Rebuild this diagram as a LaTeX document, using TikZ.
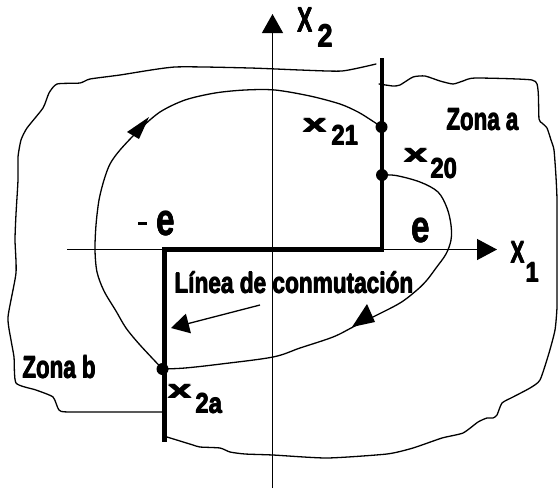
\documentclass[tikz,border=0pt]{standalone}
\usepackage{fontspec}
\newfontfamily\labfont{Liberation Sans Bold}
\usepackage{graphicx}
\usetikzlibrary{arrows.meta}
\newcommand{\heavytxt}[1]{\mbox{\rlap{#1}\rlap{\kern0.9pt#1}\rlap{\kern0.45pt\raisebox{0.5pt}{#1}}\rlap{\kern0.45pt\raisebox{-0.5pt}{#1}}\phantom{#1}}}
\newcommand{\mylab}[3]{\fontsize{#1}{#1}\selectfont\scalebox{#2}[1]{\heavytxt{#3}}}
\tikzset{
  thin line/.style={line width=1.3pt, line join=round, line cap=round},
  switchline/.style={line width=4.6pt, line join=miter},
  axisline/.style={line width=1.3pt, -{Triangle[length=19pt,width=21pt]}},
  lab/.style={inner sep=0pt, anchor=base west, font=\labfont},
  dotmark/.style={fill=black},
}
\begin{document}
\begin{tikzpicture}[x=1pt,y=-1pt]
\useasboundingbox (0,0) rectangle (559,491);
\fill[white] (0,0) rectangle (559,491);

% region outline (upper-left part)
\draw[thin line] plot[smooth, tension=0.35] coordinates {(376,64) (342,71) (300,70) (250,68) (175,67) (120,75) (90,79) (80,83) (57,84) (49,93) (43,108) (27,128) (21,140) (18,157) (18,180) (16,214) (15,240) (16,273) (8,317) (11,340) (14,357) (16,383) (36,390) (53,397) (59,410) (70,412) (164,412)};
% region outline (bottom and right part)
\draw[thin line] plot[smooth, tension=0.35] coordinates {(167,437) (180,441) (193,445) (200,447) (220,448) (230,452) (245,454) (273,455) (327,458) (387,454) (413,448) (442,438) (463,433) (478,422) (487,418) (493,418) (497,415) (502,403) (513,397) (530,388) (540,380) (549,353) (555,330) (557,307) (557,273) (557,240) (557,200) (556,177) (554,150) (551,140) (547,128) (542,123) (539,119) (538,90) (532,80) (475,78) (463,81) (453,84) (440,81) (425,76) (413,77) (400,85) (393,86) (379,84)};

% axes
\coordinate (v0) at (272.5,488);
\coordinate (v1) at (272.5,14);
\coordinate (h0) at (67,249.5);
\coordinate (h1) at (497,249.5);
\draw[axisline] (v0) -- (v1);
\draw[line width=1.3pt, -{Triangle[length=20pt,width=21pt]}] (h0) -- (h1);

% switching line
\coordinate (s0) at (382,58);
\coordinate (s1) at (382,249.5);
\coordinate (s2) at (164.5,249.5);
\coordinate (s3) at (164.5,442);
\draw[switchline] (s0) -- (s1) -- (s2) -- (s3);

% trajectory
\coordinate (p20) at (382,175);
\coordinate (p21) at (381.5,127);
\coordinate (p2a) at (162.5,369);
\draw[thin line] plot[smooth, tension=0.55] coordinates {(382,175) (396,175.5) (420,182) (438,192) (447,208) (451,225) (451,240) (446,254) (436,268) (427,280) (417,290) (400,303) (373,317) (353,327) (333,337) (300,348) (273,357) (221,364) (185,368) (162.5,369)};
\draw[thin line] plot[smooth, tension=0.5] coordinates {(162.5,369) (140,345) (126,328) (116,311) (104,291) (97,272) (95,250) (96,225) (99,200) (104,180) (110,164) (120,150) (139,130) (160,112) (185,100) (215,93) (245,90) (275,90) (310,96) (340,104) (358,112) (371,120) (381.5,127)};

% arrowheads on trajectory
\fill (149,117) -- (127,132) -- (139,139) -- cycle;
\fill (352,327) -- (367,304) -- (375,322) -- cycle;

% dots
\fill[dotmark] (p21) circle (6);
\fill[dotmark] (p20) circle (6);
\fill[dotmark] (p2a) circle (6);

% labels
\node[lab] (X2) at (297,32) {\mylab{35}{0.66}{X}};
\node[lab] (X2s) at (317,47) {\mylab{32}{0.85}{2}};
\node[lab] (X1) at (510,263) {\mylab{31}{0.68}{X}};
\node[lab] (X1s) at (525,282) {\mylab{28}{0.85}{1}};
\node[lab] (za) at (446,130) {\mylab{31}{0.72}{Zona a}};
\node[lab] (zb) at (22,378) {\mylab{31}{0.72}{Zona b}};
\node[lab] (lc) at (174,293) {\mylab{29}{0.78}{Línea de conmutación}};
\node[inner sep=0pt, fill=black, minimum width=9pt, minimum height=3pt] (minus) at (142.5,223.5) {};
\node[lab] (em) at (156,235) {\mylab{44}{0.76}{e}};
\node[lab] (ep) at (411,242) {\mylab{44}{0.76}{e}};
\node[lab] (x21) at (302,132) {\mylab{25}{1.7}{x}};
\node[lab] (x21s) at (331,145) {\mylab{28}{0.85}{21}};
\node[lab] (x20) at (403,162) {\mylab{25}{1.7}{x}};
\node[lab] (x20s) at (430,178) {\mylab{28}{0.85}{20}};
\node[lab] (x2a) at (167,398) {\mylab{25}{1.7}{x}};
\node[lab] (x2as) at (195,413) {\mylab{28}{0.85}{2a}};

% pointer from label to switching line
\coordinate (ptA) at (260,305);
\coordinate (ptB) at (171,328);
\draw[line width=1.3pt, -{Triangle[length=18pt,width=20pt]}] (ptA) -- (ptB);
\end{tikzpicture}
\end{document}
